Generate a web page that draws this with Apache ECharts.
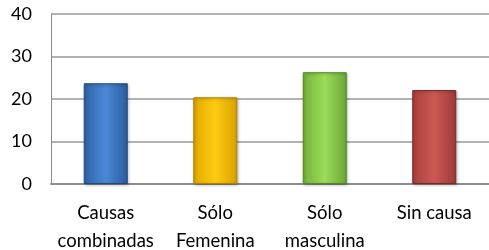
<!DOCTYPE html>
<html>
<head>
<meta charset="utf-8">
<script src="https://cdn.jsdelivr.net/npm/echarts@6/dist/echarts.min.js"></script>
<style>
  html, body { margin: 0; padding: 0; background: #fff; }
  #chart { width: 489px; height: 250px; }
</style>
</head>
<body>
<div id="chart"></div>
<script>
// datos
var categorias = ['Causas\ncombinadas', 'Sólo\nFemenina', 'Sólo\nmasculina', 'Sin causa'];
var valores = [23.7, 20.4, 26.3, 22.1];
var colores = [
    ['#2f64a8', '#4a88d6', '#2a5c9c'],
    ['#e0a800', '#ffcb10', '#d9a200'],
    ['#74b23a', '#9bdc5a', '#6ca634'],
    ['#a8403d', '#cd5855', '#9e3a37']
];
var bordes = ['#1f4a80', '#b08000', '#4f8a20', '#7a2a28'];

var chart = echarts.init(document.getElementById('chart'));

var datos = valores.map(function (v, i) {
    return {
        value: v,
        itemStyle: {
            color: new echarts.graphic.LinearGradient(0, 0, 1, 0, [
                { offset: 0, color: colores[i][0] },
                { offset: 0.5, color: colores[i][1] },
                { offset: 1, color: colores[i][2] }
            ]),
            borderColor: bordes[i],
            borderWidth: 1,
            shadowColor: 'rgba(0,0,0,0.3)',
            shadowBlur: 3,
            shadowOffsetX: 1,
            shadowOffsetY: 1
        }
    };
});

var option = {
    animation: false,
    grid: { left: 51, top: 14, right: 0, bottom: 66, containLabel: false, outerBoundsMode: 'none' },
    xAxis: {
        type: 'category',
        data: categorias,
        axisLine: { lineStyle: { color: '#8c8c8c', width: 2 } },
        axisTick: { show: false },
        axisLabel: {
            color: '#000',
            fontFamily: 'Lato',
            fontSize: 18.5,
            lineHeight: 28,
            margin: 15,
            interval: 0
        }
    },
    yAxis: {
        type: 'value',
        min: 0,
        max: 40,
        interval: 10,
        axisLine: { show: true, lineStyle: { color: '#8c8c8c', width: 1 } },
        axisTick: { show: false },
        splitLine: { lineStyle: { color: '#999', width: 1.5 } },
        axisLabel: {
            color: '#000',
            fontFamily: 'Lato',
            fontSize: 18,
            margin: 19
        }
    },
    series: [{
        type: 'bar',
        barWidth: 44,
        data: datos
    }]
};

chart.setOption(option);
</script>
</body>
</html>
